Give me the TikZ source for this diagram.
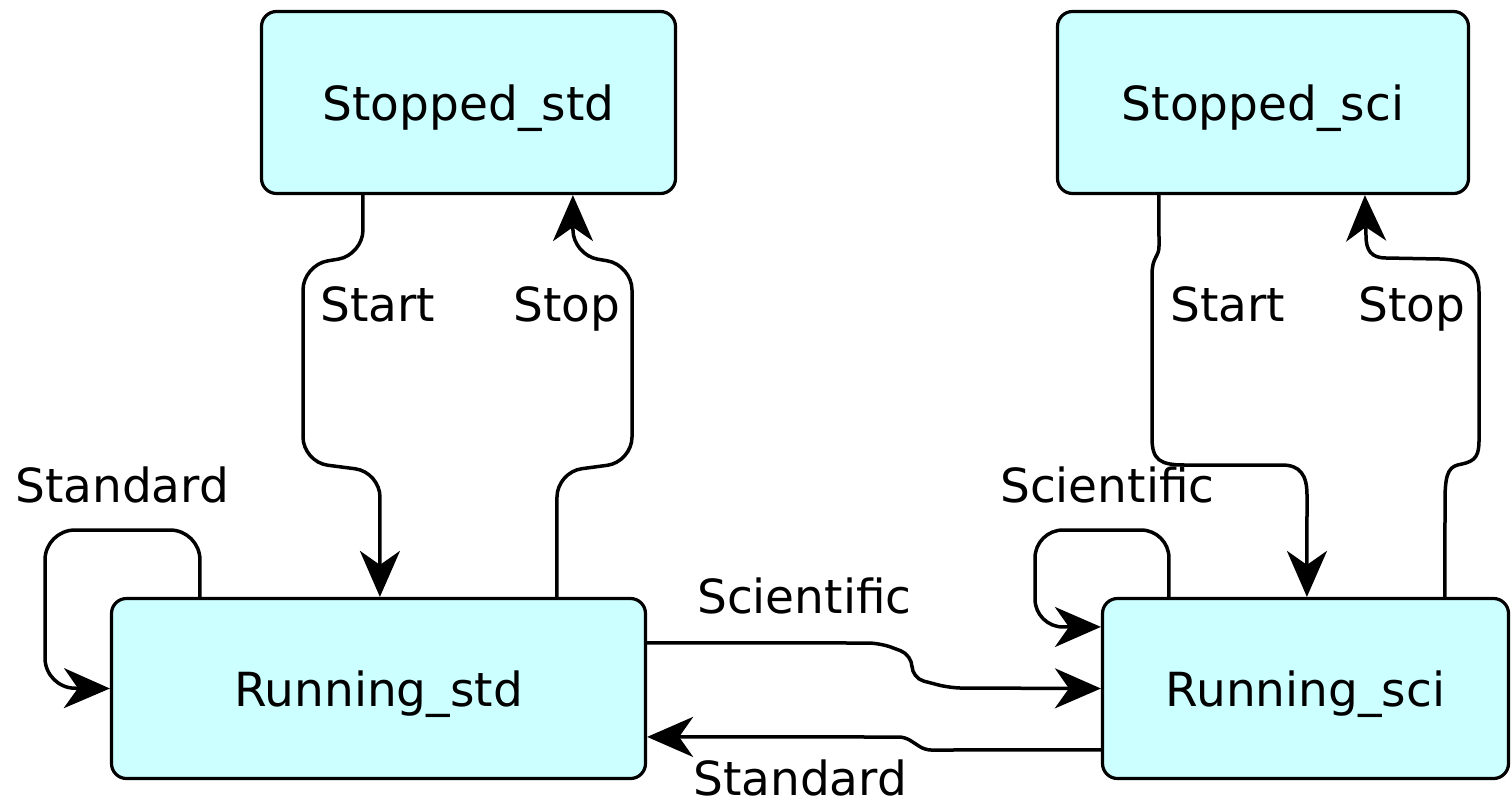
\documentclass[tikz,border=0pt]{standalone}
\usepackage{fontspec}
\setmainfont{DejaVu Sans}
\usetikzlibrary{arrows.meta}
\definecolor{statefill}{HTML}{CCFFFF}
\begin{document}
\begin{tikzpicture}[x=1pt,y=-1pt,
  every node/.style={font=\fontsize{47}{56}\selectfont},
  state/.style={draw=black, line width=3.2pt, fill=statefill, rounded corners=15pt,
    inner sep=0pt, text height=35pt, text depth=0pt},
  trans/.style={draw=black, line width=3.5pt, rounded corners=25pt,
    -{Stealth[length=46pt,width=40pt,inset=14pt]}},
  lbl/.style={anchor=base west, inner sep=0pt}]
\useasboundingbox (0,0) rectangle (1511,804);

% states
\node[state, minimum width=414pt, minimum height=182pt] (ss) at (468.5,102.5) {Stopped\_std};
\node[state, minimum width=411pt, minimum height=182pt] (sc) at (1263,102.5) {Stopped\_sci};
\node[state, minimum width=534pt, minimum height=180pt] (rs) at (378.5,688.5) {Running\_std};
\node[state, minimum width=406pt, minimum height=180pt] (rc) at (1305.5,688.5) {Running\_sci};

% standard mode: start / stop
\draw[trans] ([xshift=103pt]ss.south west) -- (363,255) -- (303,265) -- (303,462)
  -- (380,472) -- ([xshift=270pt]rs.north west);
\draw[trans] ([xshift=447pt]rs.north west) -- (557,472) -- (632,462) -- (632,265)
  -- (573,255) -- ([xshift=313pt]ss.south west);

% scientific mode: start / stop
\draw[trans, sharp corners] ([xshift=103pt]sc.south west) -- (1159,246)
  .. controls (1159,258) and (1152,256) .. (1152,275) -- (1152,438)
  .. controls (1152,460) and (1160,465) .. (1185,465) -- (1282,465)
  .. controls (1300,465) and (1307,475) .. (1307,495) -- ([xshift=206pt]rc.north west);
\draw[trans, sharp corners] ([xshift=344pt]rc.north west) -- (1445,500)
  .. controls (1445,470) and (1450,466) .. (1462,464)
  .. controls (1476,461) and (1479,455) .. (1479,440) -- (1479,292)
  .. controls (1479,266) and (1466,260) .. (1440,259) -- (1386,258)
  .. controls (1371,258) and (1366,250) .. (1366,236) -- ([xshift=309pt]sc.south west);

% self loops
\draw[trans, rounded corners=30pt] ([xshift=90pt]rs.north west) -- (200,530) -- (45,530)
  -- (45,688) -- (rs.west);
\draw[trans, rounded corners=28pt] ([xshift=68pt]rc.north west) -- (1169,530) -- (1035,530)
  -- (1035,627) -- ([yshift=-30pt]rc.north west);

% mode switches
\draw[trans, rounded corners=12pt] ([yshift=-46pt]rs.north east) -- (880,643) -- (912,655)
  -- (912,678) -- (950,688) -- (rc.west);
\draw[trans, rounded corners=6pt] ([yshift=-153pt]rc.north west) -- (925,750) -- (905,737)
  -- ([yshift=-140pt]rs.north east);

% labels
\node[lbl] (l1) at (320,321) {Start};
\node[lbl] (l2) at (513,321) {Stop};
\node[lbl] (l3) at (1170,321) {Start};
\node[lbl] (l4) at (1358,321) {Stop};
\node[lbl] (l5) at (15,502) {Standard};
\node[lbl] (l6) at (1000,502) {Scientific};
\node[lbl] (l7) at (697,613) {Scientific};
\node[lbl] (l8) at (693,795) {Standard};
\end{tikzpicture}
\end{document}
